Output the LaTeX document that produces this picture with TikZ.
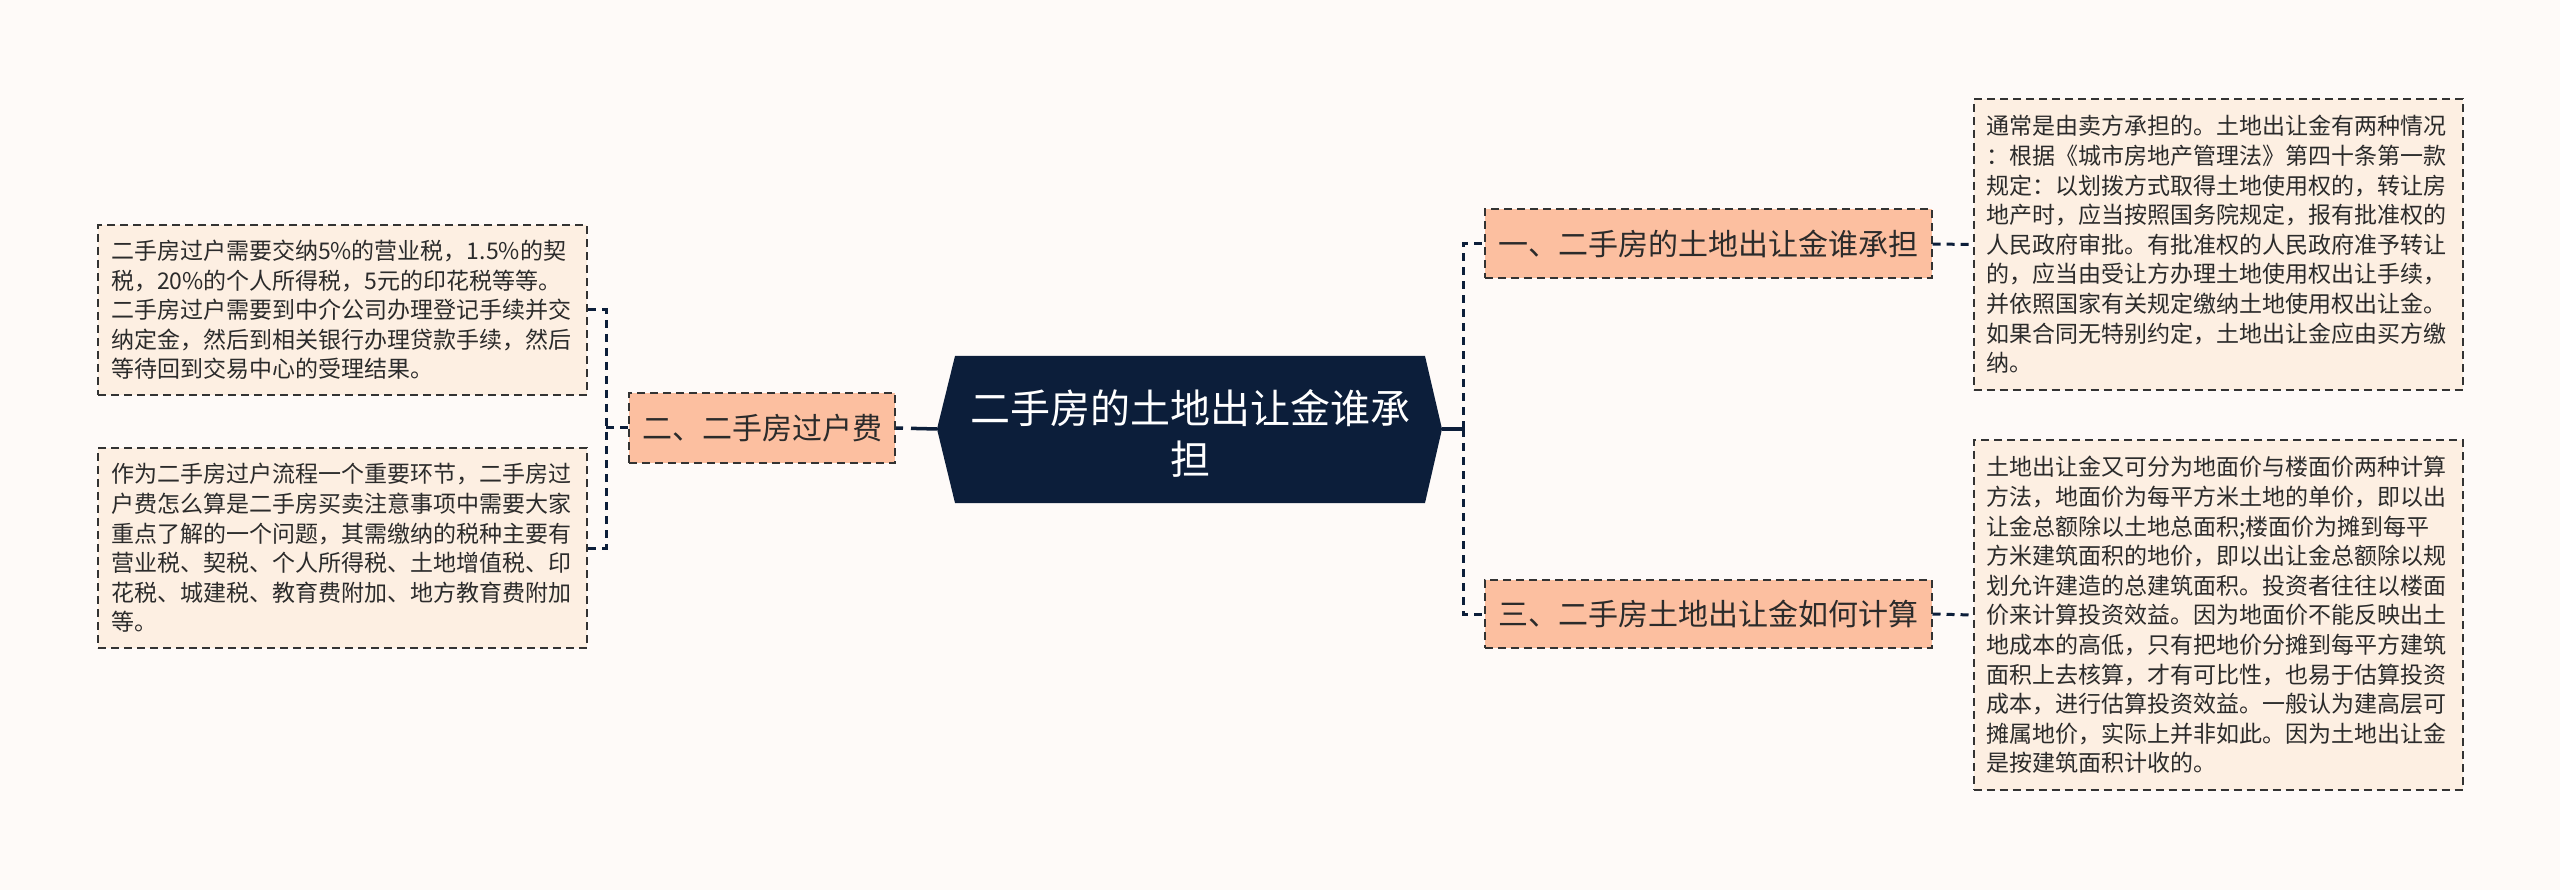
\documentclass[tikz,border=0pt]{standalone}
\usepackage{fontspec}
\setmainfont{Noto Sans CJK SC}
\definecolor{bgc}{HTML}{FEFAF8}
\definecolor{navy}{HTML}{0C1E3A}
\definecolor{branchc}{HTML}{FCBFA0}
\definecolor{leafc}{HTML}{FDEFE2}
\definecolor{borderc}{HTML}{333333}
\definecolor{textc}{HTML}{2B2B2B}
\tikzset{
  leafbox/.style={draw=borderc, fill=leafc, line width=2pt, dash pattern=on 8pt off 5pt,
    text width=463pt, inner xsep=13pt, inner ysep=0pt, align=left, text=textc,
    font=\fontsize{23}{29.6}\selectfont},
  branchbox/.style={draw=borderc, fill=branchc, line width=2pt, dash pattern=on 8pt off 5pt,
    inner sep=0pt, text=textc, font=\fontsize{30}{36}\selectfont},
  conn/.style={draw=navy, line width=3pt, dash pattern=on 8pt off 6pt},
  mainconn/.style={draw=navy, line width=3.5pt},
}
\begin{document}
\begin{tikzpicture}[x=1pt, y=-1pt]
\useasboundingbox (0,0) rectangle (2560,890);
\fill[bgc] (0,0) rectangle (2560,890);

% central node shape
\coordinate (ctl) at (955,356);
\coordinate (ctr) at (1425,356);
\coordinate (cr) at (1442,429);
\coordinate (cbr) at (1425,503);
\coordinate (cbl) at (955,503);
\coordinate (cl) at (937,429);
\fill[navy] (ctl) -- (ctr) -- (cr) -- (cbr) -- (cbl) -- (cl) -- cycle;
\node[text=white, align=center, font=\fontsize{40}{51}\selectfont] (center) at (1190,433)
  {二手房的土地出让金谁承\\担};

% branch nodes
\node[branchbox, minimum width=266pt, minimum height=69pt] (b2) at (762,428) {二、二手房过户费};
\node[branchbox, minimum width=447pt, minimum height=69pt] (b1) at (1708,244) {一、二手房的土地出让金谁承担};
\node[branchbox, minimum width=447pt, minimum height=68pt] (b3) at (1708,614) {三、二手房土地出让金如何计算};

% leaf nodes
\node[leafbox, minimum height=170pt] (l1) at (342.5,310) {二手房过户需要交纳5\%的营业税，1.5\%的契\\税，20\%的个人所得税，5元的印花税等等。\\二手房过户需要到中介公司办理登记手续并交\\纳定金，然后到相关银行办理贷款手续，然后\\等待回到交易中心的受理结果。};
\node[leafbox, minimum height=200pt] (l2) at (342.5,548) {作为二手房过户流程一个重要环节，二手房过\\户费怎么算是二手房买卖注意事项中需要大家\\重点了解的一个问题，其需缴纳的税种主要有\\营业税、契税、个人所得税、土地增值税、印\\花税、城建税、教育费附加、地方教育费附加\\等。};
\node[leafbox, minimum height=291pt] (r1) at (2218,244.5) {通常是由卖方承担的。土地出让金有两种情况\\：根据《城市房地产管理法》第四十条第一款\\规定：以划拨方式取得土地使用权的，转让房\\地产时，应当按照国务院规定，报有批准权的\\人民政府审批。有批准权的人民政府准予转让\\的，应当由受让方办理土地使用权出让手续，\\并依照国家有关规定缴纳土地使用权出让金。\\如果合同无特别约定，土地出让金应由买方缴\\纳。};
\node[leafbox, minimum height=350pt] (r2) at (2218,615) {土地出让金又可分为地面价与楼面价两种计算\\方法，地面价为每平方米土地的单价，即以出\\让金总额除以土地总面积;楼面价为摊到每平\\方米建筑面积的地价，即以出让金总额除以规\\划允许建造的总建筑面积。投资者往往以楼面\\价来计算投资效益。因为地面价不能反映出土\\地成本的高低，只有把地价分摊到每平方建筑\\面积上去核算，才有可比性，也易于估算投资\\成本，进行估算投资效益。一般认为建高层可\\摊属地价，实际上并非如此。因为土地出让金\\是按建筑面积计收的。};

% junctions
\coordinate (jL) at (606,428);
\coordinate (jR) at (1463,429);

% connectors left
\draw[conn] (l1.east) -| (jL);
\draw[conn] (l2.east) -| (jL);
\draw[conn] (b2.west) -- (jL);
\draw[mainconn, dash pattern=on 7pt off 8pt on 200pt] (b2.east) -- (cl);

% connectors right
\draw[mainconn] (cr) -- (jR);
\draw[conn] (jR) |- (b1.west);
\draw[conn] (jR) |- (b3.west);
\draw[conn] (b1.east) -- (r1.west);
\draw[conn] (b3.east) -- (r2.west);
\end{tikzpicture}
\end{document}
